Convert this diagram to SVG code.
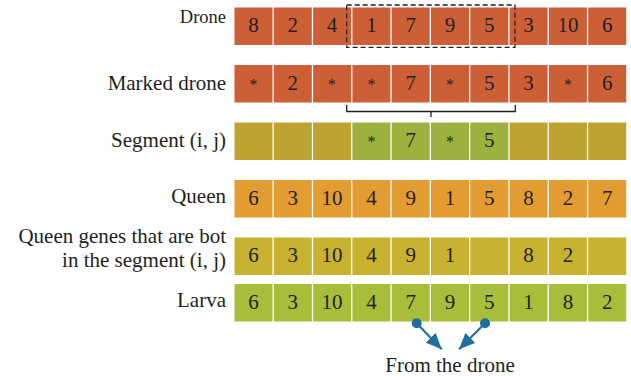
<svg xmlns="http://www.w3.org/2000/svg" width="631" height="376" viewBox="0 0 631 376">
<defs>
<style>
text{font-family:"Liberation Serif","Times New Roman",serif;fill:#231f20}
.lbl{font-size:21px;text-anchor:end}
.num{font-size:21px;text-anchor:middle}
.ast{font-size:16px}
.c{width:38px;height:37.5px}
.dr{fill:#cd5f37}
.so{fill:#bea232}
.sg{fill:#9db23e}
.qu{fill:#e29c31}
.qg{fill:#c8b22f}
.la{fill:#a8be3a}
.blk{fill:none;stroke:#231f20;stroke-width:1.3}
.arr{stroke:#1f6f9d;stroke-width:2.2;fill:none;marker-end:url(#ah)}
.dot{fill:#1f6f9d}
</style>
<marker id="ah" markerUnits="userSpaceOnUse" viewBox="0 0 16 14" markerWidth="16" markerHeight="14" refX="16" refY="7" orient="auto">
<path d="M0,0 L16,7 L0,14 z" fill="#1f6f9d"/>
</marker>
</defs>

<g id="row-drone">
<text x="226" y="23" class="lbl" style="font-size:18.5px">Drone</text>
<rect class="c dr" x="234.5" y="7.5"/><rect class="c dr" x="273.8" y="7.5"/><rect class="c dr" x="313.1" y="7.5"/><rect class="c dr" x="352.4" y="7.5"/><rect class="c dr" x="391.7" y="7.5"/><rect class="c dr" x="431" y="7.5"/><rect class="c dr" x="470.3" y="7.5"/><rect class="c dr" x="509.6" y="7.5"/><rect class="c dr" x="548.9" y="7.5"/><rect class="c dr" x="588.2" y="7.5"/>
<text class="num" y="32"><tspan x="253.5">8</tspan><tspan x="292.8">2</tspan><tspan x="332.1">4</tspan><tspan x="371.4">1</tspan><tspan x="410.7">7</tspan><tspan x="450">9</tspan><tspan x="489.3">5</tspan><tspan x="528.6">3</tspan><tspan x="567.9">10</tspan><tspan x="607.2">6</tspan></text>
<rect class="blk" x="346.7" y="5" width="168.3" height="42.3" stroke-dasharray="5 3"/>
</g>

<g id="row-marked">
<text x="226" y="89.5" class="lbl">Marked drone</text>
<rect class="c dr" x="234.5" y="65"/><rect class="c dr" x="273.8" y="65"/><rect class="c dr" x="313.1" y="65"/><rect class="c dr" x="352.4" y="65"/><rect class="c dr" x="391.7" y="65"/><rect class="c dr" x="431" y="65"/><rect class="c dr" x="470.3" y="65"/><rect class="c dr" x="509.6" y="65"/><rect class="c dr" x="548.9" y="65"/><rect class="c dr" x="588.2" y="65"/>
<text class="num" y="89.5"><tspan x="253.5" class="ast">*</tspan><tspan x="292.8">2</tspan><tspan x="332.1" class="ast">*</tspan><tspan x="371.4" class="ast">*</tspan><tspan x="410.7">7</tspan><tspan x="450" class="ast">*</tspan><tspan x="489.3">5</tspan><tspan x="528.6">3</tspan><tspan x="567.9" class="ast">*</tspan><tspan x="607.2">6</tspan></text>
</g>

<g id="row-segment">
<text x="226" y="147" class="lbl">Segment (i, j)</text>
<rect class="c so" x="234.5" y="122.5"/><rect class="c so" x="273.8" y="122.5"/><rect class="c so" x="313.1" y="122.5"/><rect class="c sg" x="352.4" y="122.5"/><rect class="c sg" x="391.7" y="122.5"/><rect class="c sg" x="431" y="122.5"/><rect class="c sg" x="470.3" y="122.5"/><rect class="c so" x="509.6" y="122.5"/><rect class="c so" x="548.9" y="122.5"/><rect class="c so" x="588.2" y="122.5"/>
<text class="num" y="147"><tspan x="371.4" class="ast">*</tspan><tspan x="410.7">7</tspan><tspan x="450" class="ast">*</tspan><tspan x="489.3">5</tspan></text>
</g>

<g id="row-queen">
<text x="226" y="203" class="lbl">Queen</text>
<rect class="c qu" x="234.5" y="180"/><rect class="c qu" x="273.8" y="180"/><rect class="c qu" x="313.1" y="180"/><rect class="c qu" x="352.4" y="180"/><rect class="c qu" x="391.7" y="180"/><rect class="c qu" x="431" y="180"/><rect class="c qu" x="470.3" y="180"/><rect class="c qu" x="509.6" y="180"/><rect class="c qu" x="548.9" y="180"/><rect class="c qu" x="588.2" y="180"/>
<text class="num" y="204.5"><tspan x="253.5">6</tspan><tspan x="292.8">3</tspan><tspan x="332.1">10</tspan><tspan x="371.4">4</tspan><tspan x="410.7">9</tspan><tspan x="450">1</tspan><tspan x="489.3">5</tspan><tspan x="528.6">8</tspan><tspan x="567.9">2</tspan><tspan x="607.2">7</tspan></text>
</g>

<g id="row-queen-genes">
<text x="226" y="243" class="lbl">Queen genes that are bot</text>
<text x="226" y="266.5" class="lbl">in the segment (i, j)</text>
<rect class="c qg" x="234.5" y="237.5"/><rect class="c qg" x="273.8" y="237.5"/><rect class="c qg" x="313.1" y="237.5"/><rect class="c qg" x="352.4" y="237.5"/><rect class="c qg" x="391.7" y="237.5"/><rect class="c qg" x="431" y="237.5"/><rect class="c qg" x="470.3" y="237.5"/><rect class="c qg" x="509.6" y="237.5"/><rect class="c qg" x="548.9" y="237.5"/><rect class="c qg" x="588.2" y="237.5"/>
<text class="num" y="262"><tspan x="253.5">6</tspan><tspan x="292.8">3</tspan><tspan x="332.1">10</tspan><tspan x="371.4">4</tspan><tspan x="410.7">9</tspan><tspan x="450">1</tspan><tspan x="528.6">8</tspan><tspan x="567.9">2</tspan></text>
</g>

<g id="row-larva">
<text x="226" y="307" class="lbl">Larva</text>
<rect class="c la" x="234.5" y="284"/><rect class="c la" x="273.8" y="284"/><rect class="c la" x="313.1" y="284"/><rect class="c la" x="352.4" y="284"/><rect class="c la" x="391.7" y="284"/><rect class="c la" x="431" y="284"/><rect class="c la" x="470.3" y="284"/><rect class="c la" x="509.6" y="284"/><rect class="c la" x="548.9" y="284"/><rect class="c la" x="588.2" y="284"/>
<text class="num" y="308.5"><tspan x="253.5">6</tspan><tspan x="292.8">3</tspan><tspan x="332.1">10</tspan><tspan x="371.4">4</tspan><tspan x="410.7">7</tspan><tspan x="450">9</tspan><tspan x="489.3">5</tspan><tspan x="528.6">1</tspan><tspan x="567.9">8</tspan><tspan x="607.2">2</tspan></text>
</g>

<g id="note-from-drone">
<text x="450" y="371.5" class="num">From the drone</text>
</g>

<g id="connectors">
<path class="blk" d="M346.7,105 V111.5 H515.3 V105 M431,111.5 V117"/>
<circle class="dot" cx="416.7" cy="323.3" r="5"/>
<circle class="dot" cx="485" cy="323.3" r="5"/>
<line class="arr" x1="416.7" y1="323.3" x2="441.7" y2="349.3"/>
<line class="arr" x1="485" y1="323.3" x2="459" y2="349.3"/>
</g>
</svg>
